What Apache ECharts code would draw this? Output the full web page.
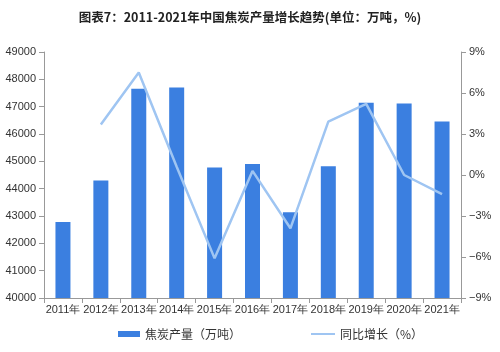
<!DOCTYPE html>
<html>
<head>
<meta charset="utf-8">
<script src="https://cdn.jsdelivr.net/npm/echarts@6/dist/echarts.min.js"></script>
<style>
  html, body { margin: 0; padding: 0; background: #fff; }
  #chart { width: 500px; height: 352px; }
</style>
</head>
<body>
<div id="chart"></div>
<script>
var years = ['2011年', '2012年', '2013年', '2014年', '2015年', '2016年', '2017年', '2018年', '2019年', '2020年', '2021年'];
var output = [42780, 44300, 47660, 47700, 44770, 44900, 43140, 44820, 47140, 47120, 46460];
var growth = [null, 3.7, 7.5, 0.6, -6.1, 0.3, -3.9, 3.9, 5.2, 0.0, -1.4];

var chart = echarts.init(document.getElementById('chart'), null, {renderer: 'canvas'});
var axisText = {color: '#333', fontSize: 11, fontFamily: 'Liberation Sans'};
var legendText = {color: '#333', fontSize: 12, fontFamily: 'Noto Sans CJK SC'};
var option = {
    animation: false,
    title: {
        text: '图表7：2011-2021年中国焦炭产量增长趋势(单位：万吨，%)',
        left: 'center',
        top: 6,
        textStyle: {fontSize: 12.5, fontWeight: 'bold', color: '#222', fontFamily: 'Noto Sans CJK SC'}
    },
    legend: [
        {
            bottom: 7,
            left: 113,
            itemWidth: 22,
            itemHeight: 6,
            textStyle: legendText,
            data: [{name: '焦炭产量（万吨）', icon: 'rect'}]
        },
        {
            bottom: 7,
            left: 306,
            itemWidth: 24,
            itemHeight: 2,
            textStyle: legendText,
            data: [{name: '同比增长（%）', icon: 'rect'}]
        }
    ],
    grid: {left: 44, right: 39, top: 52, bottom: 54},
    xAxis: {
        type: 'category',
        data: years,
        axisLine: {onZero: false, lineStyle: {color: '#999'}},
        axisTick: {show: true, alignWithLabel: false, lineStyle: {color: '#999'}},
        axisLabel: Object.assign({margin: 6, interval: 0}, axisText)
    },
    yAxis: [
        {
            type: 'value',
            min: 40000,
            max: 49000,
            interval: 1000,
            splitLine: {show: false},
            axisLine: {show: true, lineStyle: {color: '#999'}},
            axisTick: {show: true, lineStyle: {color: '#999'}},
            axisLabel: Object.assign({formatter: function (v) { return String(v); }}, axisText)
        },
        {
            type: 'value',
            min: -9,
            max: 9,
            interval: 3,
            splitLine: {show: false},
            axisLine: {show: true, lineStyle: {color: '#999'}},
            axisTick: {show: true, lineStyle: {color: '#999'}},
            axisLabel: Object.assign({formatter: function (v) { return String(v).replace('-', '−') + '%'; }}, axisText)
        }
    ],
    series: [
        {
            name: '焦炭产量（万吨）',
            type: 'bar',
            data: output,
            barWidth: 15,
            itemStyle: {color: '#3b7fe0'}
        },
        {
            name: '同比增长（%）',
            type: 'line',
            yAxisIndex: 1,
            data: growth,
            symbol: 'none',
            lineStyle: {color: '#9fc5f2', width: 2.5},
            itemStyle: {color: '#9fc5f2'}
        }
    ]
};
chart.setOption(option);
</script>
</body>
</html>
